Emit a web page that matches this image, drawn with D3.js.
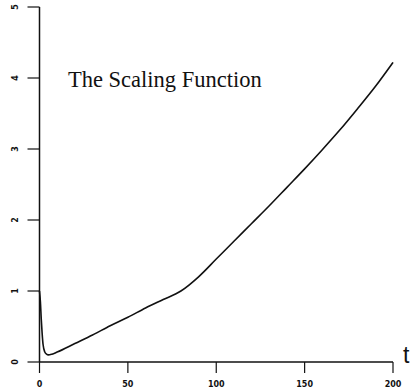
<!DOCTYPE html>
<html>
<head>
<meta charset="utf-8">
<script src="https://cdn.jsdelivr.net/npm/d3@7"></script>
<style>
    body { margin: 0; background: #fff; }
    svg { display: block; }
    .tick-label { font-family: "DejaVu Sans", sans-serif; font-weight: bold; font-size: 8px; fill: #111; }
</style>
</head>
<body>
<div id="chart"></div>
<script>
// values
const tValues = [0, 0.5, 1, 1.5, 2, 3, 4, 5, 7, 10, 20, 30, 40, 50, 60, 70, 80, 90, 100, 110, 120, 130, 140, 150, 160, 170, 180, 190, 200];
const scaleValues = [1.0, 0.85, 0.6, 0.4, 0.25, 0.14, 0.11, 0.10, 0.11, 0.14, 0.26, 0.38, 0.51, 0.63, 0.76, 0.88, 1.0, 1.2, 1.45, 1.70, 1.95, 2.20, 2.46, 2.72, 2.99, 3.27, 3.57, 3.88, 4.22];
const xTicks = [0, 50, 100, 150, 200];
const yTicks = [0, 1, 2, 3, 4, 5];
const titleText = 'The Scaling Function';
const xAxisLabel = 't';

const width = 415, height = 391;
const margin = {top: 7, right: 22, bottom: 29, left: 39.5};

const svg = d3.select('#chart').append('svg')
    .attr('width', width)
    .attr('height', height);

const x = d3.scaleLinear().domain([0, 200]).range([margin.left, width - margin.right]);
const y = d3.scaleLinear().domain([0, 5]).range([height - margin.bottom, margin.top]);

// axes, drawn by hand so the ticks stick outward like the original
const axisColor = '#111';

svg.append('line')
    .attr('x1', x(0)).attr('x2', x(200))
    .attr('y1', y(0)).attr('y2', y(0))
    .attr('stroke', axisColor).attr('stroke-width', 1.5);

svg.append('line')
    .attr('x1', x(0)).attr('x2', x(0))
    .attr('y1', y(0)).attr('y2', y(5))
    .attr('stroke', axisColor).attr('stroke-width', 1.5);

svg.selectAll('.x-tick')
    .data(xTicks)
  .join('line')
    .attr('class', 'x-tick')
    .attr('x1', d => x(d)).attr('x2', d => x(d))
    .attr('y1', y(0)).attr('y2', y(0) + 11)
    .attr('stroke', axisColor).attr('stroke-width', 1.2);

svg.selectAll('.x-label')
    .data(xTicks)
  .join('text')
    .attr('class', 'tick-label')
    .attr('text-anchor', 'middle')
    .attr('x', d => x(d))
    .attr('y', y(0) + 25)
    .text(d => d);

svg.selectAll('.y-tick')
    .data(yTicks)
  .join('line')
    .attr('class', 'y-tick')
    .attr('x1', x(0) - 12).attr('x2', x(0))
    .attr('y1', d => y(d)).attr('y2', d => y(d))
    .attr('stroke', axisColor).attr('stroke-width', 1.2);

svg.selectAll('.y-label')
    .data(yTicks)
  .join('text')
    .attr('class', 'tick-label')
    .attr('text-anchor', 'middle')
    .attr('transform', d => `translate(${x(0) - 24},${y(d)}) rotate(-90)`)
    .attr('dy', '0.35em')
    .text(d => d);

// the curve
const points = tValues.map((t, i) => [t, scaleValues[i]]);

const line = d3.line()
    .x(d => x(d[0]))
    .y(d => y(d[1]))
    .curve(d3.curveMonotoneX);

svg.append('path')
    .datum(points)
    .attr('fill', 'none')
    .attr('stroke', '#111')
    .attr('stroke-width', 1.6)
    .attr('d', line);

// title and axis label
svg.append('text')
    .attr('x', 68)
    .attr('y', 87)
    .attr('font-family', '"Liberation Serif", "Times New Roman", serif')
    .attr('font-size', 22.5)
    .attr('fill', '#111')
    .text(titleText);

svg.append('text')
    .attr('x', 403)
    .attr('y', y(0) + 1)
    .attr('font-family', '"Liberation Sans", Arial, sans-serif')
    .attr('font-size', 23)
    .attr('fill', '#111')
    .text(xAxisLabel);
</script>
</body>
</html>
